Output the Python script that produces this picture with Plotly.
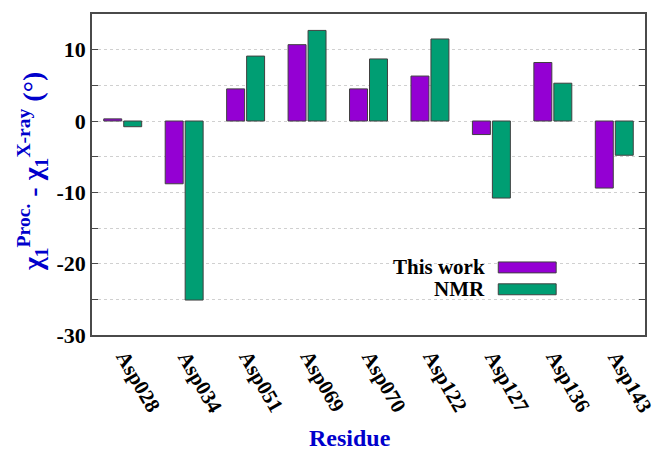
import plotly.graph_objects as go

residues = ["Asp028", "Asp034", "Asp051", "Asp069", "Asp070",
            "Asp122", "Asp127", "Asp136", "Asp143"]
this_work = [0.3, -8.8, 4.5, 10.7, 4.5, 6.3, -1.9, 8.2, -9.4]
nmr = [-0.8, -25.1, 9.1, 12.7, 8.7, 11.5, -10.8, 5.3, -4.8]
series_names = ["This work", "NMR"]
series_colors = ["#9400D3", "#009E73"]

y_tickvals = [-30, -25, -20, -15, -10, -5, 0, 5, 10, 15]
y_ticktext = ["-30", "", "-20", "", "-10", "", "0", "", "10", ""]

W, H = 659, 451
ML, MR, MT, MB = 92, 13, 12, 116
PW, PH = W - ML - MR, H - MT - MB


def px(x):
    return (x - ML) / PW


def py(y):
    return (H - MB - y) / PH


FONT = "Liberation Serif"
BLUE = "#0000CC"
EDGE = "#404040"
FRAME = "#4a4a4a"

fig = go.Figure()
for name, vals, col in zip(series_names, [this_work, nmr], series_colors):
    fig.add_trace(go.Bar(
        x=residues, y=vals, name=name,
        marker=dict(color=col, line=dict(color=EDGE, width=1)),
        showlegend=False,
    ))

shapes = [
    # white backing behind the key
    dict(type="rect", xref="paper", yref="paper", layer="below",
         x0=px(368), x1=px(570), y0=py(310), y1=py(250),
         fillcolor="white", line=dict(width=0)),
]
annotations = []
for i, (name, col) in enumerate(zip(series_names, series_colors)):
    yc = 267 + 22 * i
    shapes.append(dict(type="rect", xref="paper", yref="paper",
                       x0=px(499), x1=px(557), y0=py(yc + 5.5), y1=py(yc - 5.5),
                       fillcolor=col, line=dict(color=EDGE, width=1)))
    annotations.append(dict(xref="paper", yref="paper", x=px(488), y=py(yc),
                            xanchor="right", yanchor="middle", showarrow=False,
                            text=f"<b>{name}</b>",
                            font=dict(family=FONT, size=21, color="black")))

# slanted residue labels under each group
for r in residues:
    annotations.append(dict(
        xref="x", yref="paper", x=r, y=py(344), xshift=-14,
        xanchor="left", yanchor="top", showarrow=False, textangle=60,
        text=f"<b>{r}</b>", font=dict(family=FONT, size=21, color="black")))

annotations.append(dict(
    xref="paper", yref="paper", x=px(32), y=py(171),
    xanchor="center", yanchor="middle", showarrow=False, textangle=-90,
    text="<b>χ<sub>1</sub><sup>Proc.</sup> - χ<sub>1</sub><sup>X-ray</sup> (°)</b>",
    font=dict(family=FONT, size=28, color=BLUE)))
annotations.append(dict(
    xref="paper", yref="paper", x=px(350), y=py(439),
    xanchor="center", yanchor="middle", showarrow=False,
    text="<b>Residue</b>", font=dict(family=FONT, size=24, color=BLUE)))

fig.update_layout(
    width=W, height=H, autosize=False,
    margin=dict(l=ML, r=MR, t=MT, b=MB),
    paper_bgcolor="white", plot_bgcolor="white",
    barmode="group", bargap=0.35, bargroupgap=0.1,
    font=dict(family=FONT, size=22, color="black"),
    shapes=shapes, annotations=annotations,
    xaxis=dict(
        range=[-0.5, len(residues) - 0.5], autorange=False,
        showline=True, linecolor=FRAME, linewidth=1.5, mirror=True,
        ticks="", showticklabels=False, showgrid=False,
    ),
    yaxis=dict(
        range=[-30, 15], autorange=False, tickmode="array", tickvals=y_tickvals,
        ticktext=[f"<b>{t}</b>" if t else "" for t in y_ticktext],
        showline=True, linecolor=FRAME, linewidth=1.5, mirror="allticks",
        ticks="inside", ticklen=6, tickcolor=FRAME,
        showgrid=True, gridcolor="#d0d0d0", griddash="dot", gridwidth=1,
        zeroline=False,
        tickfont=dict(family=FONT, size=22, color="black"),
    ),
)

fig.write_html("out.html")
